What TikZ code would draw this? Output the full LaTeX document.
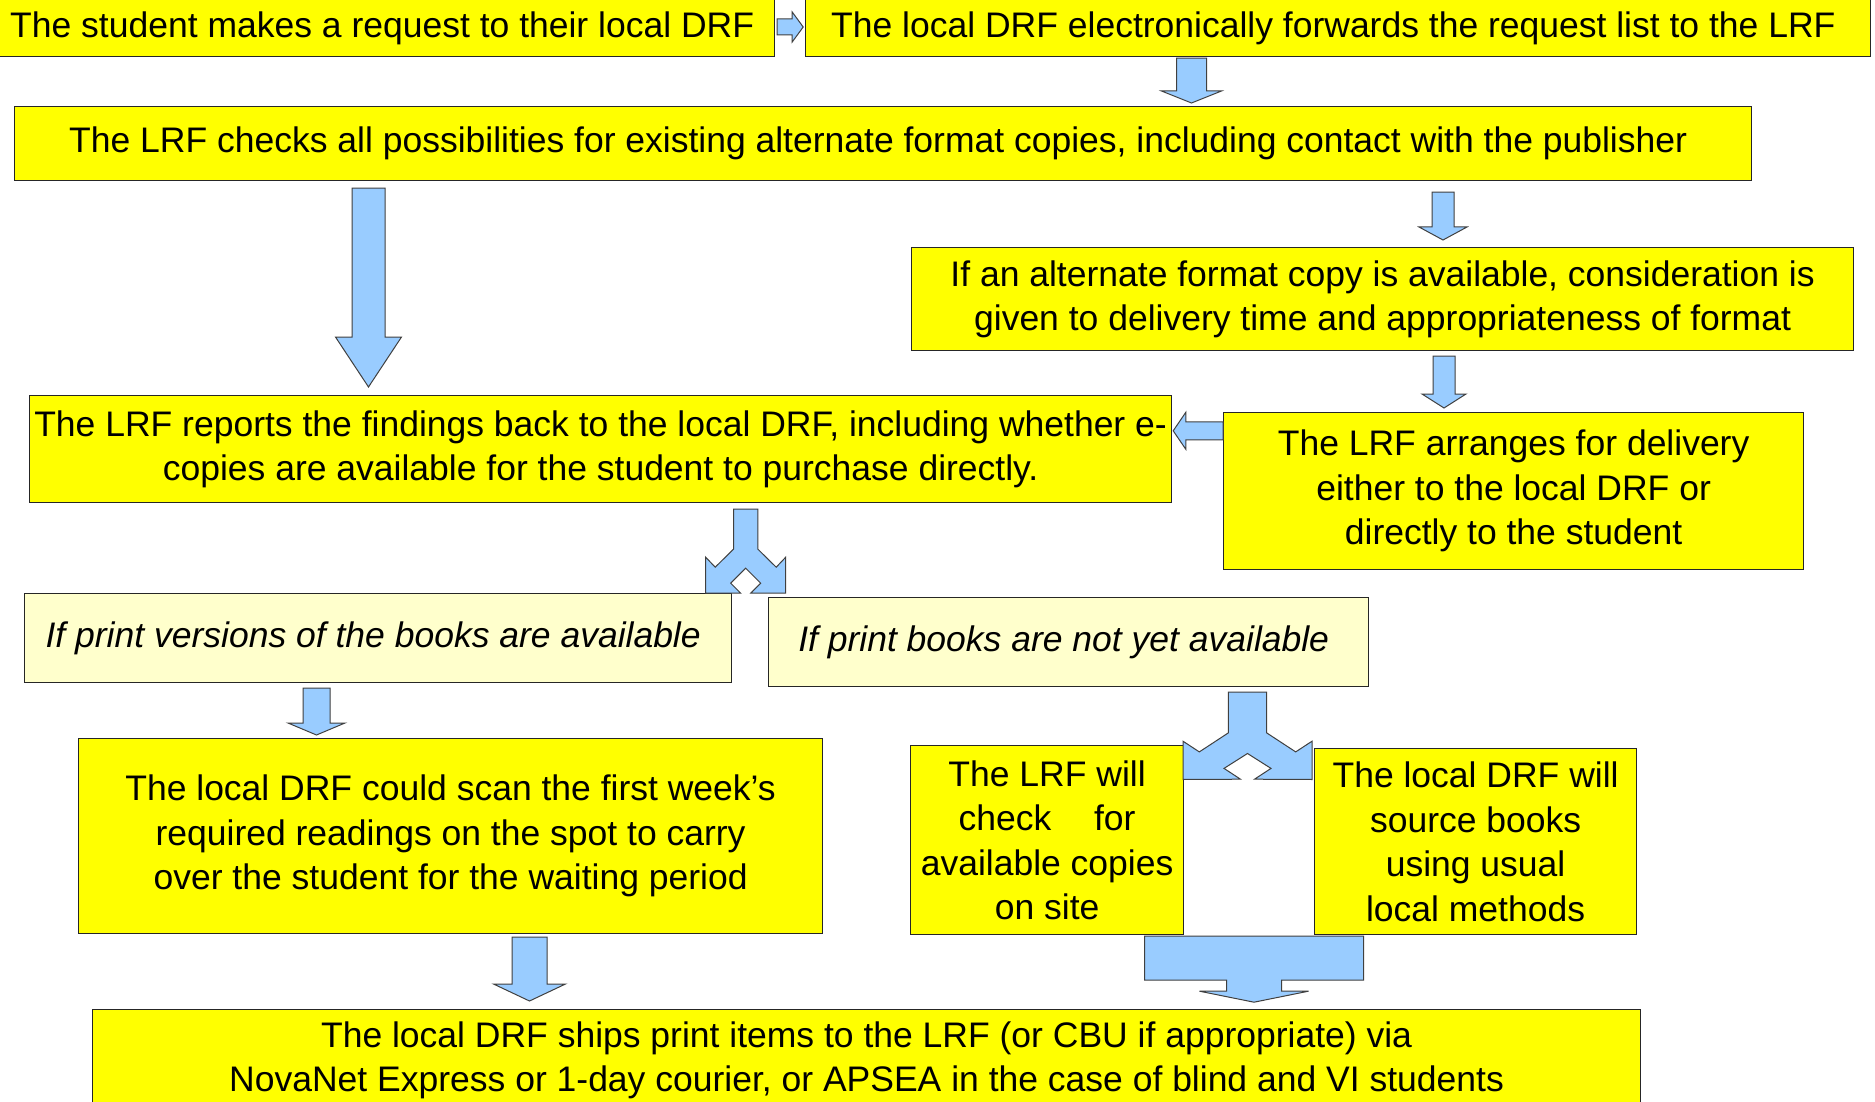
\documentclass[tikz,border=0pt]{standalone}
\usepackage{fontspec}
\setmainfont{Liberation Sans}
\usetikzlibrary{calc}
\usetikzlibrary{positioning}

\definecolor{boxyellow}{HTML}{FFFF00}
\definecolor{paleyellow}{HTML}{FFFFCC}
\definecolor{arrowblue}{HTML}{99CCFF}

\tikzset{flowbox/.style={draw=black!85,
                        line width=1.2pt,
                        fill=boxyellow,
                        anchor=north west,
                        align=center,
                        inner sep=0pt,
                        font=\fontsize{35.5pt}{44.5pt}\selectfont
                        },
        choicebox/.style={flowbox,
                        fill=paleyellow,
                        font=\fontsize{35.5pt}{44.5pt}\selectfont\itshape
        },
        blockarrow/.style={draw=black!75,
                        line width=1pt,
                        fill=arrowblue,
                        line join=miter
        },
}

% block arrow from #1 to its tip #2 (shaft half width, head half width, head length)
\newcommand{\blockarrow}[5]{%
    \coordinate (baS) at #1;
    \coordinate (baT) at #2;
    \coordinate (baH) at ($(baT)!#5!(baS)$);
    \draw[blockarrow] ($(baS)!#3!90:(baT)$) -- ($(baH)!#3!90:(baT)$) -- ($(baH)!#4!90:(baT)$)
        -- (baT) -- ($(baH)!#4!-90:(baT)$) -- ($(baH)!#3!-90:(baT)$) -- ($(baS)!#3!-90:(baT)$) -- cycle;
}
% downward block arrow between two nodes at a given x
\newcommand{\downblock}[8]{%
    \blockarrow{($(#1.south -| #3,0)+(0,#7)$)}{($(#2.north -| #3,0)+(0,-#8)$)}{#4}{#5}{#6}}

\begin{document}
\begin{tikzpicture}
    [x=1pt,y=-1pt]

    \fill[white] (0,0) rectangle (1875,1102);
    \useasboundingbox (0,0) rectangle (1875,1102);

    % REQUEST
    \node[flowbox, minimum width=775pt, minimum height=57pt] (request) at (-1,-1) {
        The student makes a request to their local DRF
    };

    \node[flowbox, anchor=center, minimum width=1065pt, minimum height=57pt, right=30pt of request] (forwardList) {
        The local DRF electronically forwards the request list to the LRF
    };

    \node[flowbox, minimum width=1737pt, minimum height=74pt] (checkFormats) at (14,106) {
        The LRF checks all possibilities for existing alternate format copies, including contact with the publisher
    };

    % FINDINGS
    \node[flowbox, minimum width=942pt, minimum height=103pt] (altFormat) at (911,247) {
        If an alternate format copy is available, consideration is\\
        given to delivery time and appropriateness of format
    };

    \node[flowbox, minimum width=1142pt, minimum height=107pt] (reportBack) at (29,395) {
        The LRF reports the findings back to the local DRF, including whether e-\\
        copies are available for the student to purchase directly.
    };

    \node[flowbox, minimum width=580pt, minimum height=157pt] (arrangeDelivery) at (1223,412) {
        The LRF arranges for delivery\\
        either to the local DRF or\\
        directly to the student
    };

    % PRINT COPIES
    \node[choicebox, minimum width=707pt, minimum height=89pt] (printAvail) at (24,593) {
        If print versions of the books are available
    };

    \node[choicebox, minimum width=600pt, minimum height=89pt] (printNotYet) at (768,597) {
        If print books are not yet available
    };

    \node[flowbox, minimum width=744pt, minimum height=195pt] (scanReadings) at (78,738) {
        The local DRF could scan the first week's\\
        required readings on the spot to carry\\
        over the student for the waiting period
    };

    \node[flowbox, minimum width=273pt, minimum height=189pt] (checkSite) at (910,745) {
        The LRF will\\
        check\hspace{1.2em}for\\
        available copies\\
        on site
    };

    \node[flowbox, minimum width=322pt, minimum height=186pt] (sourceBooks) at (1314,748) {
        The local DRF will\\
        source books\\
        using usual\\
        local methods
    };

    \node[flowbox, minimum width=1548pt, minimum height=101pt] (shipItems) at (92,1009) {
        The local DRF ships print items to the LRF (or CBU if appropriate) via\\
        NovaNet Express or 1-day courier, or APSEA in the case of blind and VI students
    };

    % ARROWS
    \blockarrow{($(request.east |- 0,27)+(2,0)$)}{($(forwardList.west |- 0,27)+(-2,0)$)}{8pt}{15pt}{11pt}
    \downblock{forwardList}{checkFormats}{1191.5}{15pt}{30pt}{12pt}{1}{3}
    \downblock{checkFormats}{reportBack}{368.5}{16.5pt}{33pt}{50pt}{7}{8}
    \downblock{checkFormats}{altFormat}{1443}{11pt}{24pt}{13pt}{11}{7}
    \downblock{altFormat}{arrangeDelivery}{1444}{11pt}{22pt}{14pt}{5}{4}
    \blockarrow{(arrangeDelivery.west |- 0,430.8)}{($(reportBack.east |- 0,430.8)+(1,0)$)}{9pt}{18.5pt}{12.6pt}
    \downblock{printAvail}{scanReadings}{316.5}{13.5pt}{28.5pt}{12pt}{5}{3}
    \downblock{scanReadings}{shipItems}{529.5}{17.5pt}{36pt}{17pt}{3}{8}

    \draw[blockarrow, shift={(reportBack.south -| 745.7,0)}]
        (-12.2,6) -- (-12.2,46) -- (-30.5,64) -- (-40,54) -- (-40,90) -- (-5,90) -- (-15,80) -- (0,65)
        -- (15,80) -- (5,90) -- (40,90) -- (40,54) -- (30.5,64) -- (12.2,46) -- (12.2,6) -- cycle;

    \draw[blockarrow, shift={(printNotYet.south -| 1247.5,0)}]
        (-19.2,5) -- (-19.2,45.7) -- (-48.2,64.7) -- (-64.5,54) -- (-64.5,92.3) -- (-7,92) -- (-23.5,81.2) -- (0,66.3)
        -- (23.5,81.2) -- (7,92) -- (64.5,92.3) -- (64.5,54) -- (48.2,64.7) -- (19.2,45.7) -- (19.2,5) -- cycle;

    \draw[blockarrow, shift={(checkSite.south -| 1254,0)}]
        (-109.5,1) -- (109.5,1) -- (109.5,45) -- (27.5,45) -- (27.5,56) -- (54.5,56) -- (0,67)
        -- (-54.5,56) -- (-27.5,56) -- (-27.5,45) -- (-109.5,45) -- cycle;

\end{tikzpicture}
\end{document}
